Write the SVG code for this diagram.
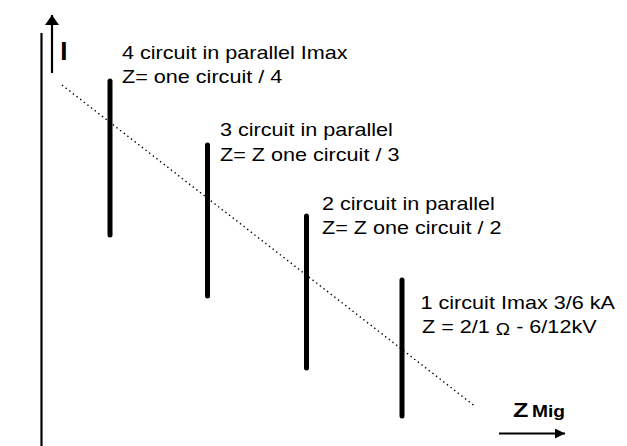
<svg xmlns="http://www.w3.org/2000/svg" width="627" height="446" viewBox="0 0 627 446">
<style>
.t{font-family:"Liberation Sans",Arial,sans-serif;font-size:18px;fill:#000}
.b{font-family:"Liberation Sans",Arial,sans-serif;font-weight:bold;fill:#000}
.bar{stroke:#000;stroke-width:5;stroke-linecap:round;fill:none}
.ax{stroke:#000;stroke-width:2.2;fill:none}
</style>
<defs>
<marker id="ah" viewBox="0 0 10 10" refX="10" refY="5" markerWidth="10" markerHeight="10" markerUnits="userSpaceOnUse" orient="auto">
<path d="M0,0 L10,5 L0,10 Z" fill="#000"/>
</marker>
<marker id="ahUp" viewBox="0 0 10 14" refX="10" refY="7" markerWidth="10" markerHeight="14" markerUnits="userSpaceOnUse" orient="auto">
<path d="M0,0 L10,7 L0,14 Z" fill="#000"/>
</marker>
</defs>
<rect width="627" height="446" fill="#fff"/>
<g id="connectors">
<line class="ax" x1="41.5" y1="33" x2="41.5" y2="446"/>
<line class="ax" x1="52" y1="73" x2="52" y2="15" stroke-width="2" marker-end="url(#ahUp)"/>
<line x1="62" y1="85" x2="476" y2="407" stroke="#000" stroke-width="1.4" stroke-dasharray="1.4 3.2"/>
<line class="ax" x1="499" y1="433.5" x2="565" y2="433.5" stroke-width="2" marker-end="url(#ah)"/>
</g>
<g id="axis-labels">
<text class="b" font-size="26" x="60.3" y="60">I</text>
<text class="b" font-size="21" transform="translate(513,417) scale(1.2,1)">Z</text>
<text class="b" font-size="16" transform="translate(532,417) scale(1.2,1)">Mig</text>
</g>
<g id="node-4">
<line class="bar" x1="110" y1="81" x2="110" y2="235"/>
<text class="t" transform="translate(122,59) scale(1.2,1)">4 circuit in parallel Imax</text>
<text class="t" transform="translate(122,83) scale(1.2,1)">Z= one circuit / 4</text>
</g>
<g id="node-3">
<line class="bar" x1="207.5" y1="145" x2="207.5" y2="296"/>
<text class="t" transform="translate(220,136) scale(1.2,1)">3 circuit in parallel</text>
<text class="t" transform="translate(220,161) scale(1.2,1)">Z= Z one circuit / 3</text>
</g>
<g id="node-2">
<line class="bar" x1="306.5" y1="216" x2="306.5" y2="368"/>
<text class="t" transform="translate(322,210) scale(1.2,1)">2 circuit in parallel</text>
<text class="t" transform="translate(322,234) scale(1.2,1)">Z= Z one circuit / 2</text>
</g>
<g id="node-1">
<line class="bar" x1="402" y1="280" x2="402" y2="416"/>
<text class="t" transform="translate(420.5,309) scale(1.2,1)">1 circuit Imax 3/6 kA</text>
<text class="t" transform="translate(422,333) scale(1.2,1)">Z = 2/1 <tspan font-size="16" dy="1.5">Ω</tspan><tspan dy="-1.5"> - 6/12kV</tspan></text>
</g>
</svg>
